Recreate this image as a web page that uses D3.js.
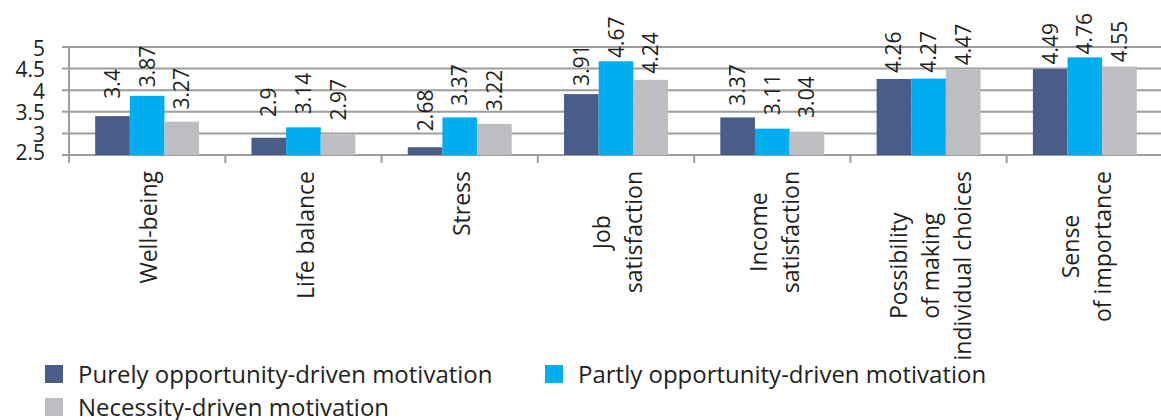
<!DOCTYPE html>
<html>
<head>
<meta charset="utf-8">
<script src="https://cdn.jsdelivr.net/npm/d3@7"></script>
<style>
  html, body { margin: 0; padding: 0; background: #ffffff; }
  svg { display: block; font-family: "Open Sans", "Noto Sans", sans-serif; }
</style>
</head>
<body>
<svg id="chart" width="1161" height="420"></svg>
<script>
// Categories (multi-line labels split on "|")
const categories = [
  "Well-being",
  "Life balance",
  "Stress",
  "Job|satisfaction",
  "Income|satisfaction",
  "Possibility|of making|individual choices",
  "Sense|of importance"
];

const seriesNames = [
  "Purely opportunity-driven motivation",
  "Partly opportunity-driven motivation",
  "Necessity-driven motivation"
];

const purelyOpportunity = [3.4, 2.9, 2.68, 3.91, 3.37, 4.26, 4.49];
const partlyOpportunity = [3.87, 3.14, 3.37, 4.67, 3.11, 4.27, 4.76];
const necessity         = [3.27, 2.97, 3.22, 4.24, 3.04, 4.47, 4.55];

const yTicks = [2.5, 3, 3.5, 4, 4.5, 5];

const colors = ["#4a5d89", "#00aeef", "#bdbec1"];
const textColor = "#231f20";
const gridColor = "#9d9d9d";

const seriesValues = [purelyOpportunity, partlyOpportunity, necessity];

const svg = d3.select("#chart");

const plot = { left: 69, right: 1163, top: 47, bottom: 155 };

const x0 = d3.scaleBand()
  .domain(categories)
  .range([plot.left, plot.right])
  .paddingInner(0.335)
  .paddingOuter(0.1675);

const x1 = d3.scaleBand()
  .domain(d3.range(seriesNames.length))
  .range([0, x0.bandwidth()]);

const y = d3.scaleLinear().domain([2.5, 5]).range([plot.bottom, plot.top]);
// value labels sit in their own lane above the bars
const yLabel = d3.scaleLinear().domain([2.5, 5]).range([117, 25]);

// gridlines + value axis
svg.append("g")
  .selectAll("line")
  .data(yTicks)
  .join("line")
  .attr("x1", plot.left - 7)
  .attr("x2", 1161)
  .attr("y1", d => y(d))
  .attr("y2", d => y(d))
  .attr("stroke", gridColor)
  .attr("stroke-width", 2);

svg.append("line")
  .attr("x1", plot.left).attr("x2", plot.left)
  .attr("y1", y(5)).attr("y2", plot.bottom + 8)
  .attr("stroke", gridColor).attr("stroke-width", 2);

svg.append("g")
  .selectAll("text")
  .data(yTicks)
  .join("text")
  .attr("x", 45)
  .attr("y", d => y(d) + (d === 2.5 ? -3 : 1))
  .attr("dy", "0.36em")
  .attr("text-anchor", "end")
  .attr("font-size", 21)
  .attr("fill", textColor)
  .text(d => d);

// category boundary ticks
const step = x0.step();
svg.append("g")
  .selectAll("line")
  .data(d3.range(categories.length + 1))
  .join("line")
  .attr("x1", i => plot.left + i * step)
  .attr("x2", i => plot.left + i * step)
  .attr("y1", plot.bottom)
  .attr("y2", plot.bottom + 8)
  .attr("stroke", gridColor)
  .attr("stroke-width", 2);

// bars
const groups = svg.append("g")
  .selectAll("g")
  .data(categories)
  .join("g")
  .attr("transform", c => `translate(${x0(c)},0)`);

groups.selectAll("rect")
  .data((c, ci) => seriesValues.map((vals, si) => ({ si, v: vals[ci] })))
  .join("rect")
  .attr("x", d => x1(d.si))
  .attr("width", x1.bandwidth())
  .attr("y", d => y(d.v))
  .attr("height", d => plot.bottom - y(d.v))
  .attr("fill", d => colors[d.si]);

// value labels, rotated
groups.selectAll("text.val")
  .data((c, ci) => seriesValues.map((vals, si) => ({ si, v: vals[ci] })))
  .join("text")
  .attr("class", "val")
  .attr("transform", d => `translate(${x1(d.si) + x1.bandwidth() / 2},${yLabel(d.v)}) rotate(-90)`)
  .attr("dy", "0.36em")
  .attr("text-anchor", "middle")
  .attr("font-size", 21)
  .attr("fill", textColor)
  .text(d => d.v);

// category labels, rotated, lines centred as a block
const labelTop = 171;
const lineGap = 32;
svg.append("g")
  .selectAll("g")
  .data(categories)
  .join("g")
  .each(function (c) {
    const g = d3.select(this);
    const lines = c.split("|");
    const cx = x0(c) + x0.bandwidth() / 2 + (lines.length > 1 ? 2 : 2);
    const texts = lines.map((ln, i) => g.append("text")
      .attr("font-size", 23)
      .attr("fill", textColor)
      .attr("text-anchor", "middle")
      .attr("dy", "0.36em")
      .text(ln));
    const maxLen = d3.max(texts, t => t.node().getComputedTextLength());
    const cy = labelTop + maxLen / 2;
    texts.forEach((t, i) => {
      const lx = cx + (i - (lines.length - 1) / 2) * lineGap;
      t.attr("transform", `translate(${lx},${cy}) rotate(-90)`);
    });
  });

// legend
const legendItems = [
  { x: 45, y: 365 },
  { x: 545, y: 365 },
  { x: 45, y: 398 }
];
const legend = svg.append("g")
  .selectAll("g")
  .data(seriesNames)
  .join("g")
  .attr("transform", (d, i) => `translate(${legendItems[i].x},${legendItems[i].y})`);

legend.append("rect")
  .attr("width", 18).attr("height", 18)
  .attr("fill", (d, i) => colors[i]);

legend.append("text")
  .attr("x", 33)
  .attr("y", 18)
  .attr("font-size", 24)
  .attr("fill", textColor)
  .text(d => d);
</script>
</body>
</html>
